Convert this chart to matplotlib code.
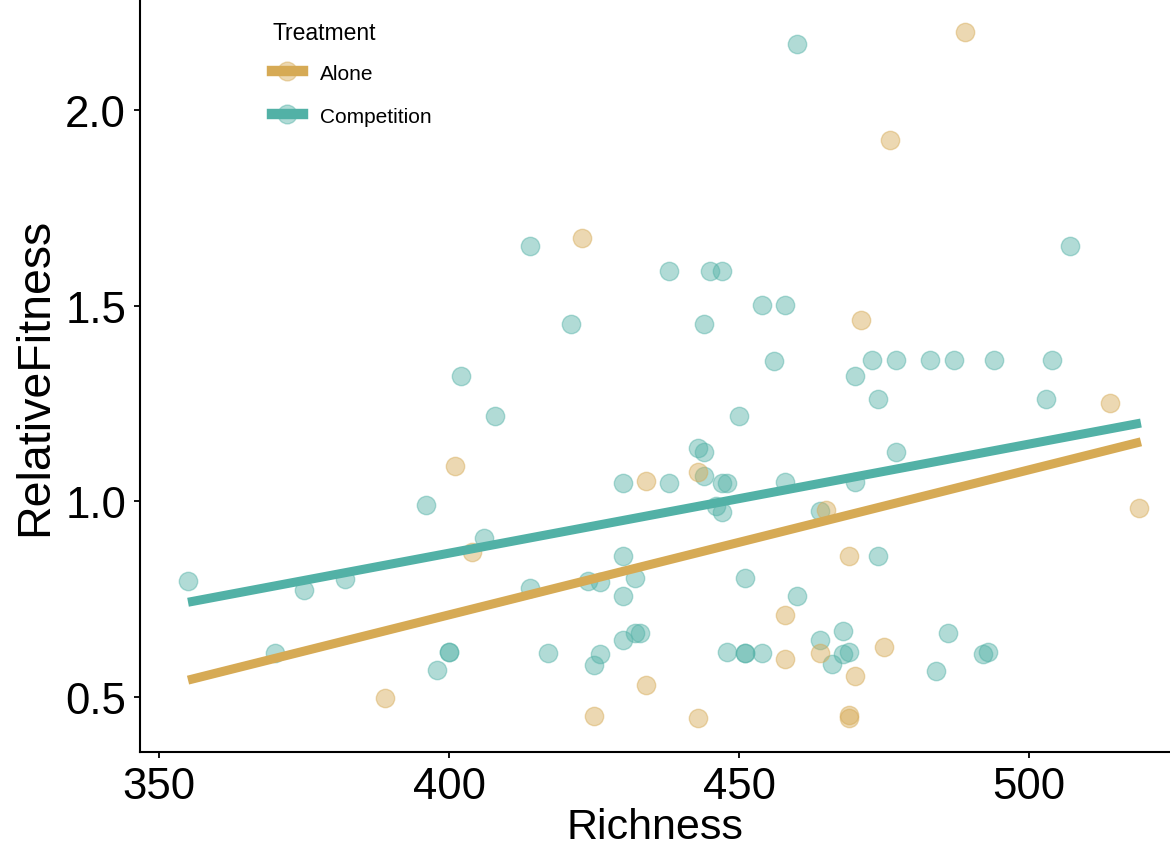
import numpy as np
import matplotlib
matplotlib.use("Agg")
import matplotlib.pyplot as plt
from matplotlib.lines import Line2D

plt.rcParams['font.family'] = ['Liberation Sans', 'DejaVu Sans']

# points
alone_richness = [401, 404, 389, 476, 423, 489, 471, 443, 434, 465, 514, 519,
                  469, 458, 434, 425, 443, 458, 464, 470, 475, 469, 469]
alone_fitness = [1.091, 0.870, 0.497, 1.923, 1.673, 2.199, 1.463, 1.076, 1.053,
                 0.979, 1.250, 0.982, 0.861, 0.709, 0.531, 0.452, 0.445, 0.598,
                 0.612, 0.554, 0.628, 0.455, 0.445]

comp_richness = [414, 402, 408, 396, 406, 355, 375, 382, 414, 370, 400, 400,
                 398, 417, 460, 507, 438, 445, 447, 454, 458, 421, 444, 456,
                 473, 477, 470, 474, 450, 443, 444, 477, 444, 430, 438, 447,
                 448, 458, 470, 446, 447, 464, 483, 487, 494, 504, 503, 474,
                 430, 424, 426, 432, 430, 451, 460, 430, 432, 433, 426, 425,
                 448, 451, 451, 454, 464, 466, 468, 468, 469, 486, 492, 493,
                 484]
comp_fitness = [1.653, 1.319, 1.218, 0.991, 0.906, 0.796, 0.773, 0.801, 0.778,
                0.612, 0.616, 0.616, 0.568, 0.612, 2.169, 1.653, 1.588, 1.588,
                1.588, 1.501, 1.501, 1.452, 1.452, 1.359, 1.360, 1.360, 1.320,
                1.261, 1.218, 1.135, 1.125, 1.125, 1.065, 1.048, 1.048, 1.048,
                1.048, 1.050, 1.050, 0.989, 0.972, 0.974, 1.360, 1.360, 1.360,
                1.360, 1.261, 0.859, 0.859, 0.797, 0.793, 0.803, 0.759, 0.803,
                0.759, 0.645, 0.663, 0.663, 0.610, 0.582, 0.616, 0.612, 0.612,
                0.612, 0.646, 0.583, 0.668, 0.610, 0.614, 0.663, 0.610, 0.616,
                0.567]

# fitted lines (endpoints of the lm fits)
fit_richness = [355, 519.3]
fit_alone = [0.543, 1.152]
fit_comp = [0.742, 1.200]

c_alone = '#D6AA55'
c_comp = '#52B1A6'

fig = plt.figure(figsize=(11.7, 8.54), dpi=100)
ax = fig.add_axes([140 / 1170, 101 / 854, 1030 / 1170, 753 / 854])

ax.scatter(comp_richness, comp_fitness, s=175, color=c_comp, alpha=0.45,
           edgecolors=c_comp, linewidths=1.0, zorder=2)
ax.scatter(alone_richness, alone_fitness, s=175, color=c_alone, alpha=0.45,
           edgecolors=c_alone, linewidths=1.0, zorder=2)
ax.plot(fit_richness, fit_comp, color=c_comp, lw=6.5, solid_capstyle='butt', zorder=3)
ax.plot(fit_richness, fit_alone, color=c_alone, lw=6.5, solid_capstyle='butt', zorder=3)

ax.set_xlim(346.72, 524.31)
ax.set_ylim(0.3593, 2.2837)
ax.set_xticks([350, 400, 450, 500])
ax.set_yticks([0.5, 1.0, 1.5, 2.0])
ax.set_yticklabels(['0.5', '1.0', '1.5', '2.0'])

for side in ['top', 'right']:
    ax.spines[side].set_visible(False)
for side in ['left', 'bottom']:
    ax.spines[side].set_linewidth(1.5)
ax.tick_params(axis='both', direction='out', length=4, width=1.3,
               labelsize=31.5, pad=6)

ax.set_xlabel('Richness', fontsize=31, labelpad=0)
ax.set_ylabel('RelativeFitness', fontsize=33.5, labelpad=6)

handles = [
    Line2D([], [], color=c_alone, lw=7.5, marker='o', markersize=13.5,
           markerfacecolor=matplotlib.colors.to_rgba(c_alone, 0.45),
           markeredgecolor=matplotlib.colors.to_rgba(c_alone, 0.45)),
    Line2D([], [], color=c_comp, lw=7.5, marker='o', markersize=13.5,
           markerfacecolor=matplotlib.colors.to_rgba(c_comp, 0.45),
           markeredgecolor=matplotlib.colors.to_rgba(c_comp, 0.45)),
]
leg = ax.legend(handles, ['Alone', 'Competition'], title='Treatment',
                loc='upper left', bbox_to_anchor=(264 / 1170, 1 - 14 / 854),
                bbox_transform=fig.transFigure, frameon=False,
                fontsize=15, title_fontsize=16.5, handlelength=1.45,
                handletextpad=0.85, labelspacing=1.15, borderaxespad=0)
leg._legend_box.align = 'left'
leg._legend_box.sep = 14

fig.savefig('out.png', dpi=100)
